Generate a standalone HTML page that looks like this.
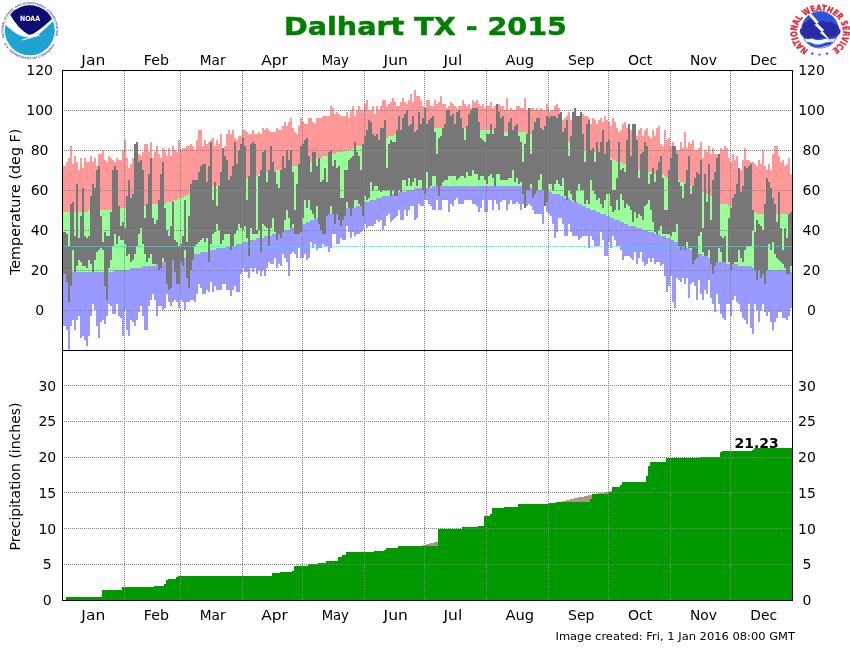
<!DOCTYPE html>
<html><head><meta charset="utf-8"><title>Dalhart TX - 2015</title>
<style>
html,body{margin:0;padding:0;background:#fff;}
body{width:850px;height:650px;overflow:hidden;}
svg{display:block;}
text{font-family:"DejaVu Sans","Liberation Sans",sans-serif;fill:#000;}
.ax{font-size:14px;}
.t{font-family:"DejaVu Sans","Liberation Sans",sans-serif;font-weight:bold;font-size:25.6px;fill:#008000;stroke:#008000;stroke-width:0.5px;}
.f{font-size:10px;}
.g{stroke:#828282;stroke-width:1;stroke-dasharray:1 1;fill:none;shape-rendering:crispEdges;}
</style></head><body>
<svg width="850" height="650" viewBox="0 0 850 650">
<rect width="850" height="650" fill="#fff"/>

<g>
<path d="M62 166.0h2V212.0h-2zM64 166.0h2V212.0h-2zM66 162.0h2V212.0h-2zM68 158.0h2V212.0h-2zM70 146.0h2V212.0h-2zM72 164.0h2V212.0h-2zM74 156.0h2V212.0h-2zM76 162.0h2V212.0h-2zM78 170.0h2V212.0h-2zM80 158.0h2V212.0h-2zM82 168.0h2V212.0h-2zM84 158.0h2V212.0h-2zM86 162.0h2V212.0h-2zM88 162.0h2V210.0h-2zM90 156.0h2V210.0h-2zM92 162.0h2V210.0h-2zM94 158.0h2V210.0h-2zM96 166.0h2V210.0h-2zM98 154.0h2V210.0h-2zM100 154.0h2V210.0h-2zM102 150.0h2V210.0h-2zM104 160.0h2V210.0h-2zM106 162.0h2V210.0h-2zM108 156.0h2V210.0h-2zM110 158.0h2V210.0h-2zM112 160.0h2V210.0h-2zM114 162.0h2V210.0h-2zM116 158.0h2V210.0h-2zM118 160.0h2V210.0h-2zM120 160.0h2V208.0h-2zM122 150.0h2V208.0h-2zM124 140.0h2V208.0h-2zM126 158.0h2V208.0h-2zM128 168.0h2V208.0h-2zM130 164.0h2V208.0h-2zM132 158.0h2V208.0h-2zM134 144.0h2V208.0h-2zM136 142.0h2V208.0h-2zM138 154.0h2V208.0h-2zM140 156.0h2V208.0h-2zM142 152.0h2V208.0h-2zM144 144.0h2V206.0h-2zM146 144.0h2V206.0h-2zM148 152.0h2V206.0h-2zM150 142.0h2V206.0h-2zM152 158.0h2V204.0h-2zM154 152.0h2V204.0h-2zM156 146.0h2V204.0h-2zM158 154.0h2V204.0h-2zM160 158.0h2V204.0h-2zM162 148.0h2V204.0h-2zM164 150.0h2V204.0h-2zM166 156.0h2V202.0h-2zM168 148.0h2V202.0h-2zM170 156.0h2V202.0h-2zM172 146.0h2V202.0h-2zM174 150.0h2V200.0h-2zM176 152.0h2V200.0h-2zM178 140.0h2V198.0h-2zM180 150.0h2V198.0h-2zM182 148.0h2V198.0h-2zM184 148.0h2V196.0h-2zM186 146.0h2V196.0h-2zM188 146.0h2V194.0h-2zM190 144.0h2V194.0h-2zM192 146.0h2V194.0h-2zM194 150.0h2V192.0h-2zM196 140.0h2V192.0h-2zM198 130.0h2V192.0h-2zM200 130.0h2V190.0h-2zM202 146.0h2V190.0h-2zM204 140.0h2V190.0h-2zM206 144.0h2V188.0h-2zM208 142.0h2V188.0h-2zM210 140.0h2V188.0h-2zM212 138.0h2V186.0h-2zM214 146.0h2V186.0h-2zM216 140.0h2V186.0h-2zM218 144.0h2V186.0h-2zM220 134.0h2V184.0h-2zM222 148.0h2V184.0h-2zM224 146.0h2V184.0h-2zM226 134.0h2V184.0h-2zM228 130.0h2V182.0h-2zM230 134.0h2V182.0h-2zM232 130.0h2V182.0h-2zM234 138.0h2V182.0h-2zM236 140.0h2V182.0h-2zM238 136.0h2V180.0h-2zM240 136.0h2V180.0h-2zM242 130.0h2V180.0h-2zM244 130.0h2V180.0h-2zM246 132.0h2V178.0h-2zM248 134.0h2V178.0h-2zM250 134.0h2V178.0h-2zM252 130.0h2V176.0h-2zM254 134.0h2V176.0h-2zM256 134.0h2V176.0h-2zM258 132.0h2V174.0h-2zM260 134.0h2V174.0h-2zM262 128.0h2V174.0h-2zM264 130.0h2V174.0h-2zM266 128.0h2V172.0h-2zM268 130.0h2V172.0h-2zM270 132.0h2V172.0h-2zM272 132.0h2V172.0h-2zM274 132.0h2V172.0h-2zM276 128.0h2V170.0h-2zM278 130.0h2V170.0h-2zM280 130.0h2V170.0h-2zM282 126.0h2V170.0h-2zM284 122.0h2V168.0h-2zM286 126.0h2V168.0h-2zM288 122.0h2V168.0h-2zM290 118.0h2V168.0h-2zM292 128.0h2V166.0h-2zM294 132.0h2V166.0h-2zM296 134.0h2V166.0h-2zM298 126.0h2V164.0h-2zM300 118.0h2V164.0h-2zM302 122.0h2V164.0h-2zM304 124.0h2V162.0h-2zM306 124.0h2V162.0h-2zM308 118.0h2V162.0h-2zM310 118.0h2V162.0h-2zM312 122.0h2V160.0h-2zM314 124.0h2V160.0h-2zM316 118.0h2V158.0h-2zM318 118.0h2V158.0h-2zM320 118.0h2V158.0h-2zM322 116.0h2V156.0h-2zM324 116.0h2V156.0h-2zM326 116.0h2V156.0h-2zM328 116.0h2V154.0h-2zM330 106.0h2V154.0h-2zM332 108.0h2V154.0h-2zM334 114.0h2V154.0h-2zM336 112.0h2V152.0h-2zM338 114.0h2V152.0h-2zM340 116.0h2V152.0h-2zM342 116.0h2V152.0h-2zM344 116.0h2V150.0h-2zM346 112.0h2V150.0h-2zM348 118.0h2V150.0h-2zM350 110.0h2V150.0h-2zM352 106.0h2V148.0h-2zM354 116.0h2V148.0h-2zM356 110.0h2V146.0h-2zM358 106.0h2V146.0h-2zM360 110.0h2V146.0h-2zM362 110.0h2V144.0h-2zM364 104.0h2V144.0h-2zM366 100.0h2V144.0h-2zM368 110.0h2V142.0h-2zM370 110.0h2V142.0h-2zM372 106.0h2V142.0h-2zM374 114.0h2V140.0h-2zM376 106.0h2V140.0h-2zM378 110.0h2V140.0h-2zM380 106.0h2V138.0h-2zM382 100.0h2V138.0h-2zM384 100.0h2V138.0h-2zM386 106.0h2V138.0h-2zM388 104.0h2V136.0h-2zM390 102.0h2V136.0h-2zM392 98.0h2V136.0h-2zM394 102.0h2V134.0h-2zM396 106.0h2V134.0h-2zM398 106.0h2V134.0h-2zM400 102.0h2V134.0h-2zM402 98.0h2V134.0h-2zM404 102.0h2V134.0h-2zM406 104.0h2V132.0h-2zM408 100.0h2V132.0h-2zM410 94.0h2V132.0h-2zM412 102.0h2V132.0h-2zM414 90.0h2V132.0h-2zM416 96.0h2V130.0h-2zM418 96.0h2V130.0h-2zM420 100.0h2V130.0h-2zM422 106.0h2V130.0h-2zM424 108.0h2V130.0h-2zM426 100.0h2V128.0h-2zM428 100.0h2V128.0h-2zM430 106.0h2V128.0h-2zM432 106.0h2V128.0h-2zM434 100.0h2V128.0h-2zM436 104.0h2V128.0h-2zM438 102.0h2V128.0h-2zM440 96.0h2V128.0h-2zM442 104.0h2V128.0h-2zM444 104.0h2V128.0h-2zM446 108.0h2V128.0h-2zM448 106.0h2V128.0h-2zM450 102.0h2V128.0h-2zM452 104.0h2V128.0h-2zM454 106.0h2V128.0h-2zM456 108.0h2V128.0h-2zM458 106.0h2V128.0h-2zM460 106.0h2V128.0h-2zM462 100.0h2V128.0h-2zM464 104.0h2V128.0h-2zM466 106.0h2V128.0h-2zM468 104.0h2V128.0h-2zM470 108.0h2V128.0h-2zM472 100.0h2V128.0h-2zM474 102.0h2V128.0h-2zM476 100.0h2V128.0h-2zM478 104.0h2V128.0h-2zM480 106.0h2V130.0h-2zM482 104.0h2V130.0h-2zM484 108.0h2V130.0h-2zM486 106.0h2V130.0h-2zM488 106.0h2V130.0h-2zM490 102.0h2V130.0h-2zM492 108.0h2V130.0h-2zM494 106.0h2V130.0h-2zM496 104.0h2V130.0h-2zM498 104.0h2V130.0h-2zM500 106.0h2V130.0h-2zM502 106.0h2V132.0h-2zM504 110.0h2V132.0h-2zM506 98.0h2V132.0h-2zM508 110.0h2V132.0h-2zM510 108.0h2V132.0h-2zM512 110.0h2V132.0h-2zM514 110.0h2V132.0h-2zM516 106.0h2V132.0h-2zM518 106.0h2V132.0h-2zM520 108.0h2V132.0h-2zM522 108.0h2V132.0h-2zM524 98.0h2V132.0h-2zM526 110.0h2V134.0h-2zM528 108.0h2V134.0h-2zM530 108.0h2V134.0h-2zM532 108.0h2V134.0h-2zM534 110.0h2V134.0h-2zM536 108.0h2V134.0h-2zM538 110.0h2V136.0h-2zM540 108.0h2V136.0h-2zM542 110.0h2V136.0h-2zM544 110.0h2V136.0h-2zM546 104.0h2V138.0h-2zM548 112.0h2V138.0h-2zM550 110.0h2V138.0h-2zM552 110.0h2V138.0h-2zM554 106.0h2V140.0h-2zM556 104.0h2V140.0h-2zM558 108.0h2V140.0h-2zM560 112.0h2V140.0h-2zM562 120.0h2V140.0h-2zM564 118.0h2V142.0h-2zM566 116.0h2V142.0h-2zM568 112.0h2V142.0h-2zM570 120.0h2V144.0h-2zM572 112.0h2V144.0h-2zM574 108.0h2V144.0h-2zM576 116.0h2V146.0h-2zM578 116.0h2V146.0h-2zM580 112.0h2V148.0h-2zM582 114.0h2V148.0h-2zM584 116.0h2V150.0h-2zM586 116.0h2V150.0h-2zM588 118.0h2V150.0h-2zM590 124.0h2V152.0h-2zM592 118.0h2V152.0h-2zM594 120.0h2V152.0h-2zM596 124.0h2V154.0h-2zM598 120.0h2V154.0h-2zM600 118.0h2V154.0h-2zM602 122.0h2V156.0h-2zM604 116.0h2V156.0h-2zM606 120.0h2V158.0h-2zM608 122.0h2V158.0h-2zM610 126.0h2V158.0h-2zM612 118.0h2V160.0h-2zM614 122.0h2V160.0h-2zM616 128.0h2V162.0h-2zM618 132.0h2V162.0h-2zM620 130.0h2V162.0h-2zM622 124.0h2V164.0h-2zM624 122.0h2V164.0h-2zM626 128.0h2V164.0h-2zM628 124.0h2V166.0h-2zM630 130.0h2V166.0h-2zM632 124.0h2V166.0h-2zM634 124.0h2V168.0h-2zM636 136.0h2V168.0h-2zM638 130.0h2V170.0h-2zM640 128.0h2V170.0h-2zM642 136.0h2V170.0h-2zM644 130.0h2V170.0h-2zM646 128.0h2V170.0h-2zM648 136.0h2V172.0h-2zM650 138.0h2V172.0h-2zM652 130.0h2V172.0h-2zM654 136.0h2V174.0h-2zM656 128.0h2V174.0h-2zM658 126.0h2V174.0h-2zM660 144.0h2V174.0h-2zM662 146.0h2V174.0h-2zM664 130.0h2V176.0h-2zM666 140.0h2V178.0h-2zM668 138.0h2V178.0h-2zM670 146.0h2V178.0h-2zM672 142.0h2V178.0h-2zM674 146.0h2V180.0h-2zM676 150.0h2V180.0h-2zM678 150.0h2V180.0h-2zM680 142.0h2V182.0h-2zM682 148.0h2V182.0h-2zM684 132.0h2V184.0h-2zM686 148.0h2V184.0h-2zM688 142.0h2V186.0h-2zM690 144.0h2V186.0h-2zM692 140.0h2V188.0h-2zM694 150.0h2V188.0h-2zM696 150.0h2V190.0h-2zM698 148.0h2V190.0h-2zM700 142.0h2V192.0h-2zM702 158.0h2V192.0h-2zM704 150.0h2V194.0h-2zM706 152.0h2V194.0h-2zM708 146.0h2V196.0h-2zM710 154.0h2V196.0h-2zM712 148.0h2V198.0h-2zM714 154.0h2V200.0h-2zM716 154.0h2V200.0h-2zM718 154.0h2V202.0h-2zM720 148.0h2V204.0h-2zM722 150.0h2V204.0h-2zM724 146.0h2V204.0h-2zM726 148.0h2V204.0h-2zM728 158.0h2V206.0h-2zM730 162.0h2V206.0h-2zM732 154.0h2V206.0h-2zM734 160.0h2V206.0h-2zM736 156.0h2V208.0h-2zM738 168.0h2V208.0h-2zM740 170.0h2V208.0h-2zM742 160.0h2V210.0h-2zM744 148.0h2V210.0h-2zM746 160.0h2V210.0h-2zM748 160.0h2V210.0h-2zM750 162.0h2V212.0h-2zM752 162.0h2V212.0h-2zM754 164.0h2V212.0h-2zM756 166.0h2V214.0h-2zM758 160.0h2V214.0h-2zM760 164.0h2V214.0h-2zM762 150.0h2V214.0h-2zM764 166.0h2V214.0h-2zM766 170.0h2V214.0h-2zM768 164.0h2V214.0h-2zM770 170.0h2V214.0h-2zM772 154.0h2V214.0h-2zM774 146.0h2V214.0h-2zM776 146.0h2V214.0h-2zM778 156.0h2V214.0h-2zM780 162.0h2V214.0h-2zM782 160.0h2V214.0h-2zM784 166.0h2V214.0h-2zM786 164.0h2V214.0h-2zM788 158.0h2V214.0h-2zM790 174.0h2V214.0h-2z" fill="#ff9999" shape-rendering="crispEdges"/>
<path d="M62 212.0h2V272.0h-2zM64 212.0h2V272.0h-2zM66 212.0h2V272.0h-2zM68 212.0h2V272.0h-2zM70 212.0h2V272.0h-2zM72 212.0h2V272.0h-2zM74 212.0h2V272.0h-2zM76 212.0h2V272.0h-2zM78 212.0h2V272.0h-2zM80 212.0h2V272.0h-2zM82 212.0h2V272.0h-2zM84 212.0h2V272.0h-2zM86 212.0h2V272.0h-2zM88 210.0h2V272.0h-2zM90 210.0h2V272.0h-2zM92 210.0h2V272.0h-2zM94 210.0h2V272.0h-2zM96 210.0h2V272.0h-2zM98 210.0h2V272.0h-2zM100 210.0h2V272.0h-2zM102 210.0h2V272.0h-2zM104 210.0h2V272.0h-2zM106 210.0h2V272.0h-2zM108 210.0h2V272.0h-2zM110 210.0h2V272.0h-2zM112 210.0h2V272.0h-2zM114 210.0h2V270.0h-2zM116 210.0h2V270.0h-2zM118 210.0h2V270.0h-2zM120 208.0h2V270.0h-2zM122 208.0h2V270.0h-2zM124 208.0h2V270.0h-2zM126 208.0h2V270.0h-2zM128 208.0h2V270.0h-2zM130 208.0h2V268.0h-2zM132 208.0h2V268.0h-2zM134 208.0h2V268.0h-2zM136 208.0h2V268.0h-2zM138 208.0h2V268.0h-2zM140 208.0h2V268.0h-2zM142 208.0h2V266.0h-2zM144 206.0h2V266.0h-2zM146 206.0h2V266.0h-2zM148 206.0h2V266.0h-2zM150 206.0h2V266.0h-2zM152 204.0h2V266.0h-2zM154 204.0h2V266.0h-2zM156 204.0h2V264.0h-2zM158 204.0h2V264.0h-2zM160 204.0h2V262.0h-2zM162 204.0h2V262.0h-2zM164 204.0h2V262.0h-2zM166 202.0h2V262.0h-2zM168 202.0h2V260.0h-2zM170 202.0h2V260.0h-2zM172 202.0h2V260.0h-2zM174 200.0h2V260.0h-2zM176 200.0h2V260.0h-2zM178 198.0h2V258.0h-2zM180 198.0h2V258.0h-2zM182 198.0h2V258.0h-2zM184 196.0h2V258.0h-2zM186 196.0h2V256.0h-2zM188 194.0h2V256.0h-2zM190 194.0h2V256.0h-2zM192 194.0h2V254.0h-2zM194 192.0h2V254.0h-2zM196 192.0h2V254.0h-2zM198 192.0h2V254.0h-2zM200 190.0h2V252.0h-2zM202 190.0h2V252.0h-2zM204 190.0h2V252.0h-2zM206 188.0h2V252.0h-2zM208 188.0h2V250.0h-2zM210 188.0h2V250.0h-2zM212 186.0h2V250.0h-2zM214 186.0h2V250.0h-2zM216 186.0h2V248.0h-2zM218 186.0h2V248.0h-2zM220 184.0h2V248.0h-2zM222 184.0h2V248.0h-2zM224 184.0h2V248.0h-2zM226 184.0h2V246.0h-2zM228 182.0h2V246.0h-2zM230 182.0h2V246.0h-2zM232 182.0h2V246.0h-2zM234 182.0h2V246.0h-2zM236 182.0h2V244.0h-2zM238 180.0h2V244.0h-2zM240 180.0h2V244.0h-2zM242 180.0h2V242.0h-2zM244 180.0h2V242.0h-2zM246 178.0h2V242.0h-2zM248 178.0h2V242.0h-2zM250 178.0h2V240.0h-2zM252 176.0h2V240.0h-2zM254 176.0h2V240.0h-2zM256 176.0h2V238.0h-2zM258 174.0h2V238.0h-2zM260 174.0h2V238.0h-2zM262 174.0h2V238.0h-2zM264 174.0h2V236.0h-2zM266 172.0h2V236.0h-2zM268 172.0h2V236.0h-2zM270 172.0h2V236.0h-2zM272 172.0h2V234.0h-2zM274 172.0h2V234.0h-2zM276 170.0h2V234.0h-2zM278 170.0h2V232.0h-2zM280 170.0h2V232.0h-2zM282 170.0h2V232.0h-2zM284 168.0h2V230.0h-2zM286 168.0h2V230.0h-2zM288 168.0h2V230.0h-2zM290 168.0h2V228.0h-2zM292 166.0h2V228.0h-2zM294 166.0h2V228.0h-2zM296 166.0h2V226.0h-2zM298 164.0h2V226.0h-2zM300 164.0h2V224.0h-2zM302 164.0h2V224.0h-2zM304 162.0h2V224.0h-2zM306 162.0h2V222.0h-2zM308 162.0h2V222.0h-2zM310 162.0h2V220.0h-2zM312 160.0h2V220.0h-2zM314 160.0h2V218.0h-2zM316 158.0h2V218.0h-2zM318 158.0h2V218.0h-2zM320 158.0h2V216.0h-2zM322 156.0h2V216.0h-2zM324 156.0h2V216.0h-2zM326 156.0h2V214.0h-2zM328 154.0h2V214.0h-2zM330 154.0h2V214.0h-2zM332 154.0h2V212.0h-2zM334 154.0h2V212.0h-2zM336 152.0h2V212.0h-2zM338 152.0h2V210.0h-2zM340 152.0h2V210.0h-2zM342 152.0h2V210.0h-2zM344 150.0h2V208.0h-2zM346 150.0h2V208.0h-2zM348 150.0h2V208.0h-2zM350 150.0h2V208.0h-2zM352 148.0h2V208.0h-2zM354 148.0h2V208.0h-2zM356 146.0h2V206.0h-2zM358 146.0h2V206.0h-2zM360 146.0h2V204.0h-2zM362 144.0h2V204.0h-2zM364 144.0h2V202.0h-2zM366 144.0h2V202.0h-2zM368 142.0h2V202.0h-2zM370 142.0h2V200.0h-2zM372 142.0h2V200.0h-2zM374 140.0h2V200.0h-2zM376 140.0h2V198.0h-2zM378 140.0h2V198.0h-2zM380 138.0h2V198.0h-2zM382 138.0h2V196.0h-2zM384 138.0h2V196.0h-2zM386 138.0h2V196.0h-2zM388 136.0h2V196.0h-2zM390 136.0h2V194.0h-2zM392 136.0h2V194.0h-2zM394 134.0h2V194.0h-2zM396 134.0h2V194.0h-2zM398 134.0h2V192.0h-2zM400 134.0h2V192.0h-2zM402 134.0h2V192.0h-2zM404 134.0h2V192.0h-2zM406 132.0h2V190.0h-2zM408 132.0h2V190.0h-2zM410 132.0h2V190.0h-2zM412 132.0h2V190.0h-2zM414 132.0h2V188.0h-2zM416 130.0h2V188.0h-2zM418 130.0h2V188.0h-2zM420 130.0h2V188.0h-2zM422 130.0h2V188.0h-2zM424 130.0h2V188.0h-2zM426 128.0h2V188.0h-2zM428 128.0h2V188.0h-2zM430 128.0h2V188.0h-2zM432 128.0h2V186.0h-2zM434 128.0h2V186.0h-2zM436 128.0h2V186.0h-2zM438 128.0h2V186.0h-2zM440 128.0h2V186.0h-2zM442 128.0h2V186.0h-2zM444 128.0h2V186.0h-2zM446 128.0h2V186.0h-2zM448 128.0h2V186.0h-2zM450 128.0h2V186.0h-2zM452 128.0h2V186.0h-2zM454 128.0h2V186.0h-2zM456 128.0h2V186.0h-2zM458 128.0h2V186.0h-2zM460 128.0h2V186.0h-2zM462 128.0h2V186.0h-2zM464 128.0h2V186.0h-2zM466 128.0h2V186.0h-2zM468 128.0h2V186.0h-2zM470 128.0h2V186.0h-2zM472 128.0h2V186.0h-2zM474 128.0h2V186.0h-2zM476 128.0h2V186.0h-2zM478 128.0h2V186.0h-2zM480 130.0h2V186.0h-2zM482 130.0h2V186.0h-2zM484 130.0h2V186.0h-2zM486 130.0h2V186.0h-2zM488 130.0h2V186.0h-2zM490 130.0h2V186.0h-2zM492 130.0h2V186.0h-2zM494 130.0h2V186.0h-2zM496 130.0h2V186.0h-2zM498 130.0h2V186.0h-2zM500 130.0h2V186.0h-2zM502 132.0h2V186.0h-2zM504 132.0h2V186.0h-2zM506 132.0h2V186.0h-2zM508 132.0h2V186.0h-2zM510 132.0h2V186.0h-2zM512 132.0h2V186.0h-2zM514 132.0h2V186.0h-2zM516 132.0h2V186.0h-2zM518 132.0h2V186.0h-2zM520 132.0h2V186.0h-2zM522 132.0h2V186.0h-2zM524 132.0h2V188.0h-2zM526 134.0h2V188.0h-2zM528 134.0h2V188.0h-2zM530 134.0h2V188.0h-2zM532 134.0h2V188.0h-2zM534 134.0h2V190.0h-2zM536 134.0h2V190.0h-2zM538 136.0h2V190.0h-2zM540 136.0h2V190.0h-2zM542 136.0h2V190.0h-2zM544 136.0h2V192.0h-2zM546 138.0h2V192.0h-2zM548 138.0h2V192.0h-2zM550 138.0h2V192.0h-2zM552 138.0h2V194.0h-2zM554 140.0h2V194.0h-2zM556 140.0h2V194.0h-2zM558 140.0h2V194.0h-2zM560 140.0h2V196.0h-2zM562 140.0h2V196.0h-2zM564 142.0h2V198.0h-2zM566 142.0h2V198.0h-2zM568 142.0h2V198.0h-2zM570 144.0h2V200.0h-2zM572 144.0h2V202.0h-2zM574 144.0h2V202.0h-2zM576 146.0h2V202.0h-2zM578 146.0h2V204.0h-2zM580 148.0h2V204.0h-2zM582 148.0h2V206.0h-2zM584 150.0h2V206.0h-2zM586 150.0h2V208.0h-2zM588 150.0h2V208.0h-2zM590 152.0h2V210.0h-2zM592 152.0h2V210.0h-2zM594 152.0h2V210.0h-2zM596 154.0h2V212.0h-2zM598 154.0h2V212.0h-2zM600 154.0h2V214.0h-2zM602 156.0h2V214.0h-2zM604 156.0h2V214.0h-2zM606 158.0h2V216.0h-2zM608 158.0h2V216.0h-2zM610 158.0h2V218.0h-2zM612 160.0h2V218.0h-2zM614 160.0h2V220.0h-2zM616 162.0h2V220.0h-2zM618 162.0h2V220.0h-2zM620 162.0h2V222.0h-2zM622 164.0h2V222.0h-2zM624 164.0h2V224.0h-2zM626 164.0h2V224.0h-2zM628 166.0h2V226.0h-2zM630 166.0h2V226.0h-2zM632 166.0h2V226.0h-2zM634 168.0h2V226.0h-2zM636 168.0h2V228.0h-2zM638 170.0h2V228.0h-2zM640 170.0h2V228.0h-2zM642 170.0h2V230.0h-2zM644 170.0h2V230.0h-2zM646 170.0h2V230.0h-2zM648 172.0h2V232.0h-2zM650 172.0h2V232.0h-2zM652 172.0h2V232.0h-2zM654 174.0h2V234.0h-2zM656 174.0h2V234.0h-2zM658 174.0h2V234.0h-2zM660 174.0h2V236.0h-2zM662 174.0h2V236.0h-2zM664 176.0h2V236.0h-2zM666 178.0h2V238.0h-2zM668 178.0h2V238.0h-2zM670 178.0h2V240.0h-2zM672 178.0h2V240.0h-2zM674 180.0h2V242.0h-2zM676 180.0h2V242.0h-2zM678 180.0h2V244.0h-2zM680 182.0h2V244.0h-2zM682 182.0h2V246.0h-2zM684 184.0h2V246.0h-2zM686 184.0h2V248.0h-2zM688 186.0h2V248.0h-2zM690 186.0h2V250.0h-2zM692 188.0h2V250.0h-2zM694 188.0h2V252.0h-2zM696 190.0h2V252.0h-2zM698 190.0h2V254.0h-2zM700 192.0h2V254.0h-2zM702 192.0h2V256.0h-2zM704 194.0h2V256.0h-2zM706 194.0h2V256.0h-2zM708 196.0h2V258.0h-2zM710 196.0h2V258.0h-2zM712 198.0h2V258.0h-2zM714 200.0h2V260.0h-2zM716 200.0h2V260.0h-2zM718 202.0h2V262.0h-2zM720 204.0h2V262.0h-2zM722 204.0h2V262.0h-2zM724 204.0h2V262.0h-2zM726 204.0h2V264.0h-2zM728 206.0h2V264.0h-2zM730 206.0h2V264.0h-2zM732 206.0h2V264.0h-2zM734 206.0h2V264.0h-2zM736 208.0h2V264.0h-2zM738 208.0h2V266.0h-2zM740 208.0h2V266.0h-2zM742 210.0h2V266.0h-2zM744 210.0h2V266.0h-2zM746 210.0h2V266.0h-2zM748 210.0h2V266.0h-2zM750 212.0h2V266.0h-2zM752 212.0h2V268.0h-2zM754 212.0h2V268.0h-2zM756 214.0h2V268.0h-2zM758 214.0h2V268.0h-2zM760 214.0h2V268.0h-2zM762 214.0h2V268.0h-2zM764 214.0h2V270.0h-2zM766 214.0h2V270.0h-2zM768 214.0h2V270.0h-2zM770 214.0h2V270.0h-2zM772 214.0h2V270.0h-2zM774 214.0h2V270.0h-2zM776 214.0h2V270.0h-2zM778 214.0h2V270.0h-2zM780 214.0h2V270.0h-2zM782 214.0h2V270.0h-2zM784 214.0h2V270.0h-2zM786 214.0h2V270.0h-2zM788 214.0h2V272.0h-2zM790 214.0h2V272.0h-2z" fill="#99ff99" shape-rendering="crispEdges"/>
<path d="M62 272.0h2V326.0h-2zM64 272.0h2V326.0h-2zM66 272.0h2V330.0h-2zM68 272.0h2V350.0h-2zM70 272.0h2V326.0h-2zM72 272.0h2V320.0h-2zM74 272.0h2V330.0h-2zM76 272.0h2V320.0h-2zM78 272.0h2V316.0h-2zM80 272.0h2V338.0h-2zM82 272.0h2V336.0h-2zM84 272.0h2V340.0h-2zM86 272.0h2V346.0h-2zM88 272.0h2V336.0h-2zM90 272.0h2V316.0h-2zM92 272.0h2V304.0h-2zM94 272.0h2V310.0h-2zM96 272.0h2V326.0h-2zM98 272.0h2V338.0h-2zM100 272.0h2V322.0h-2zM102 272.0h2V320.0h-2zM104 272.0h2V324.0h-2zM106 272.0h2V316.0h-2zM108 272.0h2V304.0h-2zM110 272.0h2V306.0h-2zM112 272.0h2V314.0h-2zM114 270.0h2V314.0h-2zM116 270.0h2V304.0h-2zM118 270.0h2V316.0h-2zM120 270.0h2V318.0h-2zM122 270.0h2V336.0h-2zM124 270.0h2V310.0h-2zM126 270.0h2V330.0h-2zM128 270.0h2V336.0h-2zM130 268.0h2V320.0h-2zM132 268.0h2V322.0h-2zM134 268.0h2V326.0h-2zM136 268.0h2V320.0h-2zM138 268.0h2V312.0h-2zM140 268.0h2V306.0h-2zM142 266.0h2V316.0h-2zM144 266.0h2V330.0h-2zM146 266.0h2V330.0h-2zM148 266.0h2V306.0h-2zM150 266.0h2V300.0h-2zM152 266.0h2V294.0h-2zM154 266.0h2V300.0h-2zM156 264.0h2V316.0h-2zM158 264.0h2V306.0h-2zM160 262.0h2V306.0h-2zM162 262.0h2V310.0h-2zM164 262.0h2V308.0h-2zM166 262.0h2V294.0h-2zM168 260.0h2V302.0h-2zM170 260.0h2V306.0h-2zM172 260.0h2V302.0h-2zM174 260.0h2V300.0h-2zM176 260.0h2V302.0h-2zM178 258.0h2V308.0h-2zM180 258.0h2V300.0h-2zM182 258.0h2V302.0h-2zM184 258.0h2V310.0h-2zM186 256.0h2V302.0h-2zM188 256.0h2V302.0h-2zM190 256.0h2V300.0h-2zM192 254.0h2V300.0h-2zM194 254.0h2V302.0h-2zM196 254.0h2V294.0h-2zM198 254.0h2V284.0h-2zM200 252.0h2V288.0h-2zM202 252.0h2V294.0h-2zM204 252.0h2V294.0h-2zM206 252.0h2V290.0h-2zM208 250.0h2V292.0h-2zM210 250.0h2V282.0h-2zM212 250.0h2V292.0h-2zM214 250.0h2V286.0h-2zM216 248.0h2V290.0h-2zM218 248.0h2V290.0h-2zM220 248.0h2V290.0h-2zM222 248.0h2V284.0h-2zM224 248.0h2V284.0h-2zM226 246.0h2V290.0h-2zM228 246.0h2V290.0h-2zM230 246.0h2V296.0h-2zM232 246.0h2V290.0h-2zM234 246.0h2V286.0h-2zM236 244.0h2V292.0h-2zM238 244.0h2V292.0h-2zM240 244.0h2V274.0h-2zM242 242.0h2V268.0h-2zM244 242.0h2V272.0h-2zM246 242.0h2V272.0h-2zM248 242.0h2V278.0h-2zM250 240.0h2V268.0h-2zM252 240.0h2V272.0h-2zM254 240.0h2V268.0h-2zM256 238.0h2V274.0h-2zM258 238.0h2V270.0h-2zM260 238.0h2V276.0h-2zM262 238.0h2V270.0h-2zM264 236.0h2V276.0h-2zM266 236.0h2V268.0h-2zM268 236.0h2V262.0h-2zM270 236.0h2V264.0h-2zM272 234.0h2V264.0h-2zM274 234.0h2V258.0h-2zM276 234.0h2V268.0h-2zM278 232.0h2V264.0h-2zM280 232.0h2V266.0h-2zM282 232.0h2V254.0h-2zM284 230.0h2V258.0h-2zM286 230.0h2V262.0h-2zM288 230.0h2V276.0h-2zM290 228.0h2V254.0h-2zM292 228.0h2V252.0h-2zM294 228.0h2V254.0h-2zM296 226.0h2V258.0h-2zM298 226.0h2V248.0h-2zM300 224.0h2V258.0h-2zM302 224.0h2V258.0h-2zM304 224.0h2V254.0h-2zM306 222.0h2V260.0h-2zM308 222.0h2V258.0h-2zM310 220.0h2V242.0h-2zM312 220.0h2V248.0h-2zM314 218.0h2V244.0h-2zM316 218.0h2V250.0h-2zM318 218.0h2V248.0h-2zM320 216.0h2V248.0h-2zM322 216.0h2V244.0h-2zM324 216.0h2V246.0h-2zM326 214.0h2V246.0h-2zM328 214.0h2V252.0h-2zM330 214.0h2V248.0h-2zM332 212.0h2V234.0h-2zM334 212.0h2V234.0h-2zM336 212.0h2V244.0h-2zM338 210.0h2V244.0h-2zM340 210.0h2V238.0h-2zM342 210.0h2V240.0h-2zM344 208.0h2V240.0h-2zM346 208.0h2V226.0h-2zM348 208.0h2V232.0h-2zM350 208.0h2V238.0h-2zM352 208.0h2V232.0h-2zM354 208.0h2V236.0h-2zM356 206.0h2V234.0h-2zM358 206.0h2V234.0h-2zM360 204.0h2V232.0h-2zM362 204.0h2V230.0h-2zM364 202.0h2V224.0h-2zM366 202.0h2V228.0h-2zM368 202.0h2V226.0h-2zM370 200.0h2V226.0h-2zM372 200.0h2V226.0h-2zM374 200.0h2V224.0h-2zM376 198.0h2V220.0h-2zM378 198.0h2V222.0h-2zM380 198.0h2V220.0h-2zM382 196.0h2V230.0h-2zM384 196.0h2V226.0h-2zM386 196.0h2V216.0h-2zM388 196.0h2V214.0h-2zM390 194.0h2V222.0h-2zM392 194.0h2V220.0h-2zM394 194.0h2V218.0h-2zM396 194.0h2V216.0h-2zM398 192.0h2V210.0h-2zM400 192.0h2V220.0h-2zM402 192.0h2V220.0h-2zM404 192.0h2V210.0h-2zM406 190.0h2V216.0h-2zM408 190.0h2V210.0h-2zM410 190.0h2V206.0h-2zM412 190.0h2V206.0h-2zM414 188.0h2V220.0h-2zM416 188.0h2V218.0h-2zM418 188.0h2V204.0h-2zM420 188.0h2V206.0h-2zM422 188.0h2V206.0h-2zM424 188.0h2V200.0h-2zM426 188.0h2V200.0h-2zM428 188.0h2V204.0h-2zM430 188.0h2V206.0h-2zM432 186.0h2V210.0h-2zM434 186.0h2V210.0h-2zM436 186.0h2V200.0h-2zM438 186.0h2V210.0h-2zM440 186.0h2V210.0h-2zM442 186.0h2V200.0h-2zM444 186.0h2V200.0h-2zM446 186.0h2V200.0h-2zM448 186.0h2V212.0h-2zM450 186.0h2V204.0h-2zM452 186.0h2V206.0h-2zM454 186.0h2V200.0h-2zM456 186.0h2V198.0h-2zM458 186.0h2V204.0h-2zM460 186.0h2V204.0h-2zM462 186.0h2V204.0h-2zM464 186.0h2V200.0h-2zM466 186.0h2V200.0h-2zM468 186.0h2V200.0h-2zM470 186.0h2V200.0h-2zM472 186.0h2V204.0h-2zM474 186.0h2V204.0h-2zM476 186.0h2V206.0h-2zM478 186.0h2V212.0h-2zM480 186.0h2V208.0h-2zM482 186.0h2V200.0h-2zM484 186.0h2V212.0h-2zM486 186.0h2V212.0h-2zM488 186.0h2V200.0h-2zM490 186.0h2V200.0h-2zM492 186.0h2V210.0h-2zM494 186.0h2V200.0h-2zM496 186.0h2V204.0h-2zM498 186.0h2V210.0h-2zM500 186.0h2V202.0h-2zM502 186.0h2V200.0h-2zM504 186.0h2V200.0h-2zM506 186.0h2V210.0h-2zM508 186.0h2V204.0h-2zM510 186.0h2V200.0h-2zM512 186.0h2V204.0h-2zM514 186.0h2V204.0h-2zM516 186.0h2V202.0h-2zM518 186.0h2V204.0h-2zM520 186.0h2V210.0h-2zM522 186.0h2V204.0h-2zM524 188.0h2V208.0h-2zM526 188.0h2V206.0h-2zM528 188.0h2V204.0h-2zM530 188.0h2V206.0h-2zM532 188.0h2V210.0h-2zM534 190.0h2V214.0h-2zM536 190.0h2V214.0h-2zM538 190.0h2V214.0h-2zM540 190.0h2V214.0h-2zM542 190.0h2V224.0h-2zM544 192.0h2V206.0h-2zM546 192.0h2V212.0h-2zM548 192.0h2V214.0h-2zM550 192.0h2V216.0h-2zM552 194.0h2V224.0h-2zM554 194.0h2V238.0h-2zM556 194.0h2V232.0h-2zM558 194.0h2V218.0h-2zM560 196.0h2V218.0h-2zM562 196.0h2V224.0h-2zM564 198.0h2V236.0h-2zM566 198.0h2V236.0h-2zM568 198.0h2V224.0h-2zM570 200.0h2V232.0h-2zM572 202.0h2V236.0h-2zM574 202.0h2V236.0h-2zM576 202.0h2V236.0h-2zM578 204.0h2V240.0h-2zM580 204.0h2V238.0h-2zM582 206.0h2V236.0h-2zM584 206.0h2V236.0h-2zM586 208.0h2V236.0h-2zM588 208.0h2V248.0h-2zM590 210.0h2V236.0h-2zM592 210.0h2V240.0h-2zM594 210.0h2V246.0h-2zM596 212.0h2V246.0h-2zM598 212.0h2V246.0h-2zM600 214.0h2V232.0h-2zM602 214.0h2V240.0h-2zM604 214.0h2V256.0h-2zM606 216.0h2V256.0h-2zM608 216.0h2V242.0h-2zM610 218.0h2V248.0h-2zM612 218.0h2V236.0h-2zM614 220.0h2V240.0h-2zM616 220.0h2V246.0h-2zM618 220.0h2V246.0h-2zM620 222.0h2V250.0h-2zM622 222.0h2V260.0h-2zM624 224.0h2V256.0h-2zM626 224.0h2V256.0h-2zM628 226.0h2V256.0h-2zM630 226.0h2V258.0h-2zM632 226.0h2V260.0h-2zM634 226.0h2V252.0h-2zM636 228.0h2V264.0h-2zM638 228.0h2V258.0h-2zM640 228.0h2V252.0h-2zM642 230.0h2V262.0h-2zM644 230.0h2V266.0h-2zM646 230.0h2V264.0h-2zM648 232.0h2V258.0h-2zM650 232.0h2V262.0h-2zM652 232.0h2V258.0h-2zM654 234.0h2V264.0h-2zM656 234.0h2V262.0h-2zM658 234.0h2V262.0h-2zM660 236.0h2V266.0h-2zM662 236.0h2V264.0h-2zM664 236.0h2V276.0h-2zM666 238.0h2V292.0h-2zM668 238.0h2V286.0h-2zM670 240.0h2V276.0h-2zM672 240.0h2V302.0h-2zM674 242.0h2V308.0h-2zM676 242.0h2V278.0h-2zM678 244.0h2V280.0h-2zM680 244.0h2V282.0h-2zM682 246.0h2V278.0h-2zM684 246.0h2V284.0h-2zM686 248.0h2V278.0h-2zM688 248.0h2V298.0h-2zM690 250.0h2V284.0h-2zM692 250.0h2V282.0h-2zM694 252.0h2V286.0h-2zM696 252.0h2V300.0h-2zM698 254.0h2V280.0h-2zM700 254.0h2V294.0h-2zM702 256.0h2V300.0h-2zM704 256.0h2V290.0h-2zM706 256.0h2V294.0h-2zM708 258.0h2V280.0h-2zM710 258.0h2V298.0h-2zM712 258.0h2V304.0h-2zM714 260.0h2V312.0h-2zM716 260.0h2V294.0h-2zM718 262.0h2V304.0h-2zM720 262.0h2V314.0h-2zM722 262.0h2V318.0h-2zM724 262.0h2V320.0h-2zM726 264.0h2V304.0h-2zM728 264.0h2V304.0h-2zM730 264.0h2V316.0h-2zM732 264.0h2V300.0h-2zM734 264.0h2V296.0h-2zM736 264.0h2V302.0h-2zM738 266.0h2V304.0h-2zM740 266.0h2V312.0h-2zM742 266.0h2V318.0h-2zM744 266.0h2V320.0h-2zM746 266.0h2V324.0h-2zM748 266.0h2V304.0h-2zM750 266.0h2V328.0h-2zM752 268.0h2V334.0h-2zM754 268.0h2V304.0h-2zM756 268.0h2V310.0h-2zM758 268.0h2V322.0h-2zM760 268.0h2V310.0h-2zM762 268.0h2V304.0h-2zM764 270.0h2V312.0h-2zM766 270.0h2V316.0h-2zM768 270.0h2V312.0h-2zM770 270.0h2V322.0h-2zM772 270.0h2V330.0h-2zM774 270.0h2V322.0h-2zM776 270.0h2V318.0h-2zM778 270.0h2V312.0h-2zM780 270.0h2V312.0h-2zM782 270.0h2V318.0h-2zM784 270.0h2V318.0h-2zM786 270.0h2V320.0h-2zM788 272.0h2V316.0h-2zM790 272.0h2V308.0h-2z" fill="#9999ff" shape-rendering="crispEdges"/>
<path d="M62 232.0h2V274.0h-2zM64 232.0h2V274.0h-2zM66 234.0h2V282.0h-2zM68 246.0h2V302.0h-2zM70 204.0h2V286.0h-2zM72 202.0h2V250.0h-2zM74 236.0h2V272.0h-2zM76 184.0h2V266.0h-2zM78 238.0h2V260.0h-2zM80 216.0h2V262.0h-2zM82 188.0h2V266.0h-2zM84 236.0h2V266.0h-2zM86 238.0h2V268.0h-2zM88 236.0h2V260.0h-2zM90 196.0h2V264.0h-2zM92 184.0h2V272.0h-2zM94 188.0h2V260.0h-2zM96 170.0h2V252.0h-2zM98 166.0h2V250.0h-2zM100 216.0h2V248.0h-2zM102 242.0h2V250.0h-2zM104 232.0h2V286.0h-2zM106 236.0h2V300.0h-2zM108 236.0h2V268.0h-2zM110 212.0h2V260.0h-2zM112 170.0h2V246.0h-2zM114 166.0h2V234.0h-2zM116 170.0h2V244.0h-2zM118 206.0h2V236.0h-2zM120 226.0h2V240.0h-2zM122 222.0h2V240.0h-2zM124 228.0h2V244.0h-2zM126 196.0h2V256.0h-2zM128 180.0h2V254.0h-2zM130 198.0h2V262.0h-2zM132 194.0h2V260.0h-2zM134 144.0h2V254.0h-2zM136 142.0h2V246.0h-2zM138 162.0h2V234.0h-2zM140 160.0h2V228.0h-2zM142 170.0h2V244.0h-2zM144 218.0h2V254.0h-2zM146 204.0h2V262.0h-2zM148 174.0h2V258.0h-2zM150 158.0h2V254.0h-2zM152 218.0h2V264.0h-2zM154 224.0h2V264.0h-2zM156 220.0h2V264.0h-2zM158 200.0h2V270.0h-2zM160 174.0h2V268.0h-2zM162 162.0h2V258.0h-2zM164 208.0h2V262.0h-2zM166 230.0h2V284.0h-2zM168 236.0h2V290.0h-2zM170 226.0h2V288.0h-2zM172 202.0h2V260.0h-2zM174 240.0h2V272.0h-2zM176 242.0h2V284.0h-2zM178 246.0h2V284.0h-2zM180 244.0h2V262.0h-2zM182 236.0h2V266.0h-2zM184 200.0h2V250.0h-2zM186 242.0h2V278.0h-2zM188 216.0h2V288.0h-2zM190 184.0h2V270.0h-2zM192 180.0h2V260.0h-2zM194 180.0h2V246.0h-2zM196 180.0h2V244.0h-2zM198 172.0h2V242.0h-2zM200 166.0h2V240.0h-2zM202 164.0h2V238.0h-2zM204 164.0h2V242.0h-2zM206 182.0h2V238.0h-2zM208 166.0h2V262.0h-2zM210 142.0h2V244.0h-2zM212 200.0h2V234.0h-2zM214 182.0h2V232.0h-2zM216 206.0h2V224.0h-2zM218 186.0h2V230.0h-2zM220 172.0h2V244.0h-2zM222 148.0h2V240.0h-2zM224 156.0h2V234.0h-2zM226 160.0h2V234.0h-2zM228 180.0h2V234.0h-2zM230 176.0h2V250.0h-2zM232 166.0h2V246.0h-2zM234 142.0h2V234.0h-2zM236 164.0h2V230.0h-2zM238 150.0h2V224.0h-2zM240 144.0h2V228.0h-2zM242 138.0h2V230.0h-2zM244 146.0h2V226.0h-2zM246 200.0h2V238.0h-2zM248 176.0h2V256.0h-2zM250 144.0h2V228.0h-2zM252 142.0h2V234.0h-2zM254 144.0h2V234.0h-2zM256 230.0h2V234.0h-2zM258 176.0h2V230.0h-2zM260 170.0h2V252.0h-2zM262 152.0h2V224.0h-2zM264 150.0h2V226.0h-2zM266 182.0h2V228.0h-2zM268 170.0h2V246.0h-2zM270 146.0h2V228.0h-2zM272 162.0h2V218.0h-2zM274 172.0h2V232.0h-2zM276 184.0h2V240.0h-2zM278 188.0h2V234.0h-2zM280 170.0h2V238.0h-2zM282 156.0h2V232.0h-2zM284 168.0h2V220.0h-2zM286 150.0h2V210.0h-2zM288 160.0h2V218.0h-2zM290 150.0h2V228.0h-2zM292 172.0h2V224.0h-2zM294 210.0h2V234.0h-2zM296 184.0h2V234.0h-2zM298 164.0h2V234.0h-2zM300 146.0h2V232.0h-2zM302 144.0h2V218.0h-2zM304 140.0h2V200.0h-2zM306 138.0h2V208.0h-2zM308 156.0h2V200.0h-2zM310 172.0h2V210.0h-2zM312 152.0h2V214.0h-2zM314 152.0h2V218.0h-2zM316 166.0h2V206.0h-2zM318 158.0h2V224.0h-2zM320 182.0h2V230.0h-2zM322 180.0h2V234.0h-2zM324 168.0h2V234.0h-2zM326 182.0h2V216.0h-2zM328 152.0h2V214.0h-2zM330 150.0h2V206.0h-2zM332 166.0h2V214.0h-2zM334 160.0h2V224.0h-2zM336 168.0h2V214.0h-2zM338 166.0h2V220.0h-2zM340 198.0h2V226.0h-2zM342 198.0h2V220.0h-2zM344 170.0h2V216.0h-2zM346 170.0h2V202.0h-2zM348 160.0h2V208.0h-2zM350 158.0h2V216.0h-2zM352 156.0h2V208.0h-2zM354 142.0h2V200.0h-2zM356 152.0h2V200.0h-2zM358 156.0h2V204.0h-2zM360 170.0h2V206.0h-2zM362 144.0h2V216.0h-2zM364 136.0h2V196.0h-2zM366 130.0h2V200.0h-2zM368 120.0h2V198.0h-2zM370 122.0h2V182.0h-2zM372 134.0h2V190.0h-2zM374 136.0h2V186.0h-2zM376 134.0h2V186.0h-2zM378 140.0h2V190.0h-2zM380 128.0h2V192.0h-2zM382 128.0h2V190.0h-2zM384 120.0h2V190.0h-2zM386 168.0h2V190.0h-2zM388 144.0h2V190.0h-2zM390 140.0h2V196.0h-2zM392 142.0h2V190.0h-2zM394 142.0h2V196.0h-2zM396 130.0h2V196.0h-2zM398 116.0h2V190.0h-2zM400 130.0h2V192.0h-2zM402 118.0h2V180.0h-2zM404 114.0h2V180.0h-2zM406 110.0h2V186.0h-2zM408 126.0h2V178.0h-2zM410 124.0h2V186.0h-2zM412 116.0h2V182.0h-2zM414 132.0h2V178.0h-2zM416 130.0h2V186.0h-2zM418 112.0h2V180.0h-2zM420 124.0h2V180.0h-2zM422 118.0h2V190.0h-2zM424 108.0h2V194.0h-2zM426 124.0h2V172.0h-2zM428 120.0h2V188.0h-2zM430 118.0h2V186.0h-2zM432 116.0h2V176.0h-2zM434 132.0h2V176.0h-2zM436 154.0h2V186.0h-2zM438 138.0h2V196.0h-2zM440 136.0h2V186.0h-2zM442 128.0h2V182.0h-2zM444 124.0h2V180.0h-2zM446 110.0h2V180.0h-2zM448 110.0h2V176.0h-2zM450 116.0h2V176.0h-2zM452 114.0h2V176.0h-2zM454 124.0h2V176.0h-2zM456 112.0h2V180.0h-2zM458 110.0h2V178.0h-2zM460 118.0h2V176.0h-2zM462 128.0h2V176.0h-2zM464 140.0h2V178.0h-2zM466 126.0h2V172.0h-2zM468 114.0h2V176.0h-2zM470 110.0h2V176.0h-2zM472 108.0h2V170.0h-2zM474 108.0h2V174.0h-2zM476 108.0h2V174.0h-2zM478 122.0h2V180.0h-2zM480 138.0h2V176.0h-2zM482 140.0h2V176.0h-2zM484 142.0h2V180.0h-2zM486 134.0h2V184.0h-2zM488 134.0h2V176.0h-2zM490 124.0h2V174.0h-2zM492 134.0h2V178.0h-2zM494 128.0h2V186.0h-2zM496 104.0h2V174.0h-2zM498 112.0h2V174.0h-2zM500 118.0h2V180.0h-2zM502 116.0h2V180.0h-2zM504 136.0h2V180.0h-2zM506 136.0h2V180.0h-2zM508 122.0h2V178.0h-2zM510 118.0h2V178.0h-2zM512 130.0h2V170.0h-2zM514 126.0h2V182.0h-2zM516 124.0h2V178.0h-2zM518 136.0h2V184.0h-2zM520 142.0h2V182.0h-2zM522 162.0h2V194.0h-2zM524 144.0h2V208.0h-2zM526 134.0h2V190.0h-2zM528 108.0h2V190.0h-2zM530 154.0h2V184.0h-2zM532 130.0h2V198.0h-2zM534 122.0h2V194.0h-2zM536 118.0h2V190.0h-2zM538 118.0h2V180.0h-2zM540 128.0h2V174.0h-2zM542 130.0h2V190.0h-2zM544 126.0h2V206.0h-2zM546 116.0h2V202.0h-2zM548 118.0h2V184.0h-2zM550 116.0h2V184.0h-2zM552 116.0h2V190.0h-2zM554 116.0h2V184.0h-2zM556 118.0h2V180.0h-2zM558 114.0h2V184.0h-2zM560 112.0h2V186.0h-2zM562 132.0h2V178.0h-2zM564 128.0h2V196.0h-2zM566 120.0h2V200.0h-2zM568 156.0h2V190.0h-2zM570 136.0h2V194.0h-2zM572 112.0h2V200.0h-2zM574 108.0h2V202.0h-2zM576 116.0h2V190.0h-2zM578 116.0h2V184.0h-2zM580 112.0h2V190.0h-2zM582 134.0h2V190.0h-2zM584 162.0h2V204.0h-2zM586 124.0h2V200.0h-2zM588 120.0h2V204.0h-2zM590 150.0h2V180.0h-2zM592 148.0h2V190.0h-2zM594 162.0h2V194.0h-2zM596 142.0h2V200.0h-2zM598 152.0h2V198.0h-2zM600 142.0h2V204.0h-2zM602 130.0h2V208.0h-2zM604 154.0h2V200.0h-2zM606 142.0h2V194.0h-2zM608 140.0h2V194.0h-2zM610 160.0h2V206.0h-2zM612 190.0h2V212.0h-2zM614 190.0h2V210.0h-2zM616 178.0h2V200.0h-2zM618 142.0h2V210.0h-2zM620 170.0h2V194.0h-2zM622 168.0h2V200.0h-2zM624 172.0h2V208.0h-2zM626 140.0h2V204.0h-2zM628 124.0h2V206.0h-2zM630 156.0h2V210.0h-2zM632 124.0h2V222.0h-2zM634 124.0h2V212.0h-2zM636 140.0h2V218.0h-2zM638 178.0h2V214.0h-2zM640 154.0h2V216.0h-2zM642 152.0h2V220.0h-2zM644 142.0h2V206.0h-2zM646 146.0h2V204.0h-2zM648 184.0h2V200.0h-2zM650 174.0h2V210.0h-2zM652 168.0h2V222.0h-2zM654 182.0h2V232.0h-2zM656 170.0h2V234.0h-2zM658 162.0h2V230.0h-2zM660 156.0h2V226.0h-2zM662 178.0h2V234.0h-2zM664 210.0h2V234.0h-2zM666 210.0h2V234.0h-2zM668 170.0h2V234.0h-2zM670 158.0h2V236.0h-2zM672 146.0h2V232.0h-2zM674 146.0h2V232.0h-2zM676 154.0h2V224.0h-2zM678 182.0h2V246.0h-2zM680 186.0h2V250.0h-2zM682 198.0h2V246.0h-2zM684 184.0h2V250.0h-2zM686 170.0h2V242.0h-2zM688 156.0h2V248.0h-2zM690 194.0h2V248.0h-2zM692 186.0h2V264.0h-2zM694 178.0h2V260.0h-2zM696 172.0h2V258.0h-2zM698 174.0h2V236.0h-2zM700 160.0h2V232.0h-2zM702 228.0h2V252.0h-2zM704 174.0h2V256.0h-2zM706 202.0h2V256.0h-2zM708 164.0h2V250.0h-2zM710 220.0h2V264.0h-2zM712 180.0h2V274.0h-2zM714 172.0h2V266.0h-2zM716 158.0h2V262.0h-2zM718 154.0h2V248.0h-2zM720 236.0h2V252.0h-2zM722 238.0h2V262.0h-2zM724 236.0h2V262.0h-2zM728 218.0h2V262.0h-2zM730 208.0h2V270.0h-2zM732 198.0h2V264.0h-2zM734 194.0h2V262.0h-2zM736 184.0h2V262.0h-2zM738 168.0h2V250.0h-2zM740 192.0h2V258.0h-2zM742 186.0h2V262.0h-2zM744 166.0h2V250.0h-2zM746 168.0h2V246.0h-2zM748 166.0h2V246.0h-2zM750 164.0h2V246.0h-2zM752 210.0h2V230.0h-2zM754 232.0h2V270.0h-2zM756 220.0h2V280.0h-2zM758 224.0h2V270.0h-2zM760 226.0h2V278.0h-2zM762 230.0h2V274.0h-2zM764 204.0h2V284.0h-2zM766 178.0h2V270.0h-2zM768 182.0h2V244.0h-2zM770 188.0h2V250.0h-2zM772 198.0h2V242.0h-2zM774 204.0h2V254.0h-2zM776 222.0h2V258.0h-2zM778 192.0h2V260.0h-2zM780 228.0h2V262.0h-2zM782 250.0h2V264.0h-2zM784 228.0h2V268.0h-2zM786 238.0h2V274.0h-2zM788 214.0h2V274.0h-2zM790 212.0h2V266.0h-2z" fill="#777777" shape-rendering="crispEdges"/>
</g>
<path d="M62 600L62 600.0L64 600.0L64 600.0L66 600.0L66 599.9L68 599.9L68 599.8L70 599.8L70 599.7L72 599.7L72 599.6L74 599.6L74 599.5L76 599.5L76 599.4L78 599.4L78 599.3L80 599.3L80 599.2L82 599.2L82 599.1L84 599.1L84 599.0L86 599.0L86 598.9L88 598.9L88 598.8L90 598.8L90 598.7L92 598.7L92 598.5L94 598.5L94 598.4L96 598.4L96 598.3L98 598.3L98 598.2L100 598.2L100 598.1L102 598.1L102 598.0L104 598.0L104 597.9L106 597.9L106 597.8L108 597.8L108 597.7L110 597.7L110 597.6L112 597.6L112 597.5L114 597.5L114 597.4L116 597.4L116 597.3L118 597.3L118 597.2L120 597.2L120 597.1L122 597.1L122 597.0L124 597.0L124 596.9L126 596.9L126 596.8L128 596.8L128 596.7L130 596.7L130 596.6L132 596.6L132 596.4L134 596.4L134 596.3L136 596.3L136 596.2L138 596.2L138 596.1L140 596.1L140 596.0L142 596.0L142 595.9L144 595.9L144 595.8L146 595.8L146 595.6L148 595.6L148 595.5L150 595.5L150 595.4L152 595.4L152 595.3L154 595.3L154 595.2L156 595.2L156 595.1L158 595.1L158 594.9L160 594.9L160 594.8L162 594.8L162 594.7L164 594.7L164 594.6L166 594.6L166 594.5L168 594.5L168 594.4L170 594.4L170 594.3L172 594.3L172 594.1L174 594.1L174 594.0L176 594.0L176 593.9L178 593.9L178 593.8L180 593.8L180 593.7L182 593.7L182 593.6L184 593.6L184 593.4L186 593.4L186 593.2L188 593.2L188 593.0L190 593.0L190 592.8L192 592.8L192 592.6L194 592.6L194 592.5L196 592.5L196 592.3L198 592.3L198 592.1L200 592.1L200 591.9L202 591.9L202 591.7L204 591.7L204 591.5L206 591.5L206 591.4L208 591.4L208 591.2L210 591.2L210 591.0L212 591.0L212 590.8L214 590.8L214 590.6L216 590.6L216 590.4L218 590.4L218 590.3L220 590.3L220 590.1L222 590.1L222 589.9L224 589.9L224 589.7L226 589.7L226 589.5L228 589.5L228 589.3L230 589.3L230 589.1L232 589.1L232 589.0L234 589.0L234 588.8L236 588.8L236 588.6L238 588.6L238 588.4L240 588.4L240 588.2L242 588.2L242 588.0L244 588.0L244 587.9L246 587.9L246 587.6L248 587.6L248 587.3L250 587.3L250 587.0L252 587.0L252 586.7L254 586.7L254 586.4L256 586.4L256 586.1L258 586.1L258 585.9L260 585.9L260 585.6L262 585.6L262 585.3L264 585.3L264 585.0L266 585.0L266 584.7L268 584.7L268 584.4L270 584.4L270 584.1L272 584.1L272 583.9L274 583.9L274 583.6L276 583.6L276 583.3L278 583.3L278 583.0L280 583.0L280 582.7L282 582.7L282 582.4L284 582.4L284 582.1L286 582.1L286 581.9L288 581.9L288 581.6L290 581.6L290 581.3L292 581.3L292 581.0L294 581.0L294 580.7L296 580.7L296 580.4L298 580.4L298 580.1L300 580.1L300 579.9L302 579.9L302 579.6L304 579.6L304 579.3L306 579.3L306 578.8L308 578.8L308 578.2L310 578.2L310 577.7L312 577.7L312 577.2L314 577.2L314 576.6L316 576.6L316 576.1L318 576.1L318 575.6L320 575.6L320 575.0L322 575.0L322 574.5L324 574.5L324 574.0L326 574.0L326 573.5L328 573.5L328 572.9L330 572.9L330 572.4L332 572.4L332 571.9L334 571.9L334 571.3L336 571.3L336 570.8L338 570.8L338 570.3L340 570.3L340 569.7L342 569.7L342 569.2L344 569.2L344 568.7L346 568.7L346 568.2L348 568.2L348 567.6L350 567.6L350 567.1L352 567.1L352 566.6L354 566.6L354 566.0L356 566.0L356 565.5L358 565.5L358 565.0L360 565.0L360 564.4L362 564.4L362 563.9L364 563.9L364 563.4L366 563.4L366 562.9L368 562.9L368 562.2L370 562.2L370 561.6L372 561.6L372 561.0L374 561.0L374 560.3L376 560.3L376 559.7L378 559.7L378 559.0L380 559.0L380 558.4L382 558.4L382 557.8L384 557.8L384 557.1L386 557.1L386 556.5L388 556.5L388 555.9L390 555.9L390 555.2L392 555.2L392 554.6L394 554.6L394 554.0L396 554.0L396 553.3L398 553.3L398 552.7L400 552.7L400 552.1L402 552.1L402 551.4L404 551.4L404 550.8L406 550.8L406 550.2L408 550.2L408 549.5L410 549.5L410 548.9L412 548.9L412 548.3L414 548.3L414 547.6L416 547.6L416 547.0L418 547.0L418 546.3L420 546.3L420 545.7L422 545.7L422 545.2L424 545.2L424 544.7L426 544.7L426 544.2L428 544.2L428 543.7L430 543.7L430 543.1L432 543.1L432 542.6L434 542.6L434 542.1L436 542.1L436 541.6L438 541.6L438 541.1L440 541.1L440 540.5L442 540.5L442 539.8L444 539.8L444 539.2L446 539.2L446 538.6L448 538.6L448 538.0L450 538.0L450 537.4L452 537.4L452 536.8L454 536.8L454 536.2L456 536.2L456 535.5L458 535.5L458 534.9L460 534.9L460 534.3L462 534.3L462 533.7L464 533.7L464 533.1L466 533.1L466 532.5L468 532.5L468 531.9L470 531.9L470 531.2L472 531.2L472 530.6L474 530.6L474 530.0L476 530.0L476 529.4L478 529.4L478 528.8L480 528.8L480 528.2L482 528.2L482 527.6L484 527.6L484 526.9L486 526.9L486 526.3L488 526.3L488 525.7L490 525.7L490 525.1L492 525.1L492 524.4L494 524.4L494 523.8L496 523.8L496 523.1L498 523.1L498 522.5L500 522.5L500 521.8L502 521.8L502 521.2L504 521.2L504 520.6L506 520.6L506 519.9L508 519.9L508 519.3L510 519.3L510 518.6L512 518.6L512 518.0L514 518.0L514 517.3L516 517.3L516 516.7L518 516.7L518 516.0L520 516.0L520 515.4L522 515.4L522 514.7L524 514.7L524 514.1L526 514.1L526 513.5L528 513.5L528 512.8L530 512.8L530 512.2L532 512.2L532 511.5L534 511.5L534 510.9L536 510.9L536 510.2L538 510.2L538 509.6L540 509.6L540 508.9L542 508.9L542 508.3L544 508.3L544 507.6L546 507.6L546 507.0L548 507.0L548 506.4L550 506.4L550 505.7L552 505.7L552 504.6L554 504.6L554 503.5L556 503.5L556 502.4L558 502.4L558 501.9L560 501.9L560 501.5L562 501.5L562 501.0L564 501.0L564 500.6L566 500.6L566 500.1L568 500.1L568 499.7L570 499.7L570 499.2L572 499.2L572 498.8L574 498.8L574 498.3L576 498.3L576 497.9L578 497.9L578 497.4L580 497.4L580 497.0L582 497.0L582 496.5L584 496.5L584 496.1L586 496.1L586 495.6L588 495.6L588 495.2L590 495.2L590 494.7L592 494.7L592 494.3L594 494.3L594 493.9L596 493.9L596 493.6L598 493.6L598 493.3L600 493.3L600 492.9L602 492.9L602 492.6L604 492.6L604 492.3L606 492.3L606 491.9L608 491.9L608 491.6L610 491.6L610 491.2L612 491.2L612 491.0L614 491.0L614 490.7L616 490.7L616 490.4L618 490.4L618 490.2L620 490.2L620 489.9L622 489.9L622 489.6L624 489.6L624 489.4L626 489.4L626 489.1L628 489.1L628 488.8L630 488.8L630 488.5L632 488.5L632 488.3L634 488.3L634 488.0L636 488.0L636 487.7L638 487.7L638 487.5L640 487.5L640 487.2L642 487.2L642 486.9L644 486.9L644 486.7L646 486.7L646 486.4L648 486.4L648 486.1L650 486.1L650 485.8L652 485.8L652 485.6L654 485.6L654 485.3L656 485.3L656 485.0L658 485.0L658 484.8L660 484.8L660 484.5L662 484.5L662 484.2L664 484.2L664 483.9L666 483.9L666 483.7L668 483.7L668 483.4L670 483.4L670 483.1L672 483.1L672 482.9L674 482.9L674 482.7L676 482.7L676 482.6L678 482.6L678 482.4L680 482.4L680 482.3L682 482.3L682 482.1L684 482.1L684 482.0L686 482.0L686 481.9L688 481.9L688 481.7L690 481.7L690 481.6L692 481.6L692 481.4L694 481.4L694 481.3L696 481.3L696 481.1L698 481.1L698 481.0L700 481.0L700 480.9L702 480.9L702 480.7L704 480.7L704 480.6L706 480.6L706 480.4L708 480.4L708 480.3L710 480.3L710 480.1L712 480.1L712 480.0L714 480.0L714 479.9L716 479.9L716 479.7L718 479.7L718 479.6L720 479.6L720 479.4L722 479.4L722 479.3L724 479.3L724 479.1L726 479.1L726 479.0L728 479.0L728 478.9L730 478.9L730 478.7L732 478.7L732 478.6L734 478.6L734 478.4L736 478.4L736 478.3L738 478.3L738 478.1L740 478.1L740 478.0L742 478.0L742 477.9L744 477.9L744 477.7L746 477.7L746 477.6L748 477.6L748 477.4L750 477.4L750 477.3L752 477.3L752 477.1L754 477.1L754 477.0L756 477.0L756 476.9L758 476.9L758 476.7L760 476.7L760 476.6L762 476.6L762 476.4L764 476.4L764 476.3L766 476.3L766 476.1L768 476.1L768 476.0L770 476.0L770 475.9L772 475.9L772 475.7L774 475.7L774 475.6L776 475.6L776 475.4L778 475.4L778 475.3L780 475.3L780 475.1L782 475.1L782 475.0L784 475.0L784 474.9L786 474.9L786 474.7L788 474.7L788 474.6L790 474.6L790 474.4L792 474.4L792 600z" fill="#a89880" shape-rendering="crispEdges"/>
<path d="M62 600L62 599.6L64 599.6L64 599.6L66 599.6L66 597.3L68 597.3L68 597.3L70 597.3L70 597.3L72 597.3L72 597.3L74 597.3L74 597.3L76 597.3L76 597.3L78 597.3L78 597.3L80 597.3L80 597.3L82 597.3L82 597.3L84 597.3L84 597.3L86 597.3L86 597.3L88 597.3L88 597.3L90 597.3L90 597.3L92 597.3L92 597.3L94 597.3L94 597.3L96 597.3L96 597.3L98 597.3L98 597.3L100 597.3L100 597.3L102 597.3L102 590.4L104 590.4L104 590.4L106 590.4L106 590.4L108 590.4L108 590.4L110 590.4L110 590.4L112 590.4L112 590.4L114 590.4L114 590.4L116 590.4L116 590.4L118 590.4L118 590.4L120 590.4L120 590.4L122 590.4L122 587.4L124 587.4L124 587.4L126 587.4L126 587.4L128 587.4L128 587.4L130 587.4L130 587.4L132 587.4L132 587.4L134 587.4L134 587.4L136 587.4L136 587.4L138 587.4L138 587.4L140 587.4L140 587.4L142 587.4L142 587.4L144 587.4L144 587.4L146 587.4L146 587.4L148 587.4L148 587.4L150 587.4L150 587.4L152 587.4L152 587.4L154 587.4L154 586.1L156 586.1L156 586.1L158 586.1L158 586.1L160 586.1L160 586.1L162 586.1L162 586.1L164 586.1L164 583.6L166 583.6L166 579.9L168 579.9L168 579.1L170 579.1L170 579.1L172 579.1L172 579.1L174 579.1L174 579.1L176 579.1L176 577.4L178 577.4L178 575.9L180 575.9L180 575.9L182 575.9L182 575.9L184 575.9L184 575.9L186 575.9L186 575.9L188 575.9L188 575.9L190 575.9L190 575.9L192 575.9L192 575.9L194 575.9L194 575.9L196 575.9L196 575.9L198 575.9L198 575.9L200 575.9L200 575.9L202 575.9L202 575.9L204 575.9L204 575.9L206 575.9L206 575.9L208 575.9L208 575.9L210 575.9L210 575.9L212 575.9L212 575.9L214 575.9L214 575.9L216 575.9L216 575.9L218 575.9L218 575.9L220 575.9L220 575.9L222 575.9L222 575.9L224 575.9L224 575.9L226 575.9L226 575.9L228 575.9L228 575.9L230 575.9L230 575.9L232 575.9L232 575.9L234 575.9L234 575.9L236 575.9L236 575.9L238 575.9L238 575.9L240 575.9L240 575.9L242 575.9L242 575.9L244 575.9L244 575.9L246 575.9L246 575.9L248 575.9L248 575.9L250 575.9L250 575.9L252 575.9L252 575.9L254 575.9L254 575.9L256 575.9L256 575.9L258 575.9L258 575.9L260 575.9L260 575.9L262 575.9L262 575.9L264 575.9L264 575.9L266 575.9L266 575.9L268 575.9L268 575.9L270 575.9L270 575.9L272 575.9L272 573.3L274 573.3L274 573.3L276 573.3L276 573.3L278 573.3L278 573.3L280 573.3L280 572.3L282 572.3L282 572.3L284 572.3L284 572.3L286 572.3L286 572.3L288 572.3L288 572.3L290 572.3L290 572.3L292 572.3L292 571.1L294 571.1L294 566.1L296 566.1L296 566.1L298 566.1L298 566.1L300 566.1L300 566.1L302 566.1L302 566.1L304 566.1L304 566.1L306 566.1L306 566.1L308 566.1L308 564.3L310 564.3L310 564.3L312 564.3L312 564.3L314 564.3L314 564.3L316 564.3L316 564.3L318 564.3L318 563.1L320 563.1L320 563.1L322 563.1L322 563.1L324 563.1L324 563.1L326 563.1L326 561.1L328 561.1L328 561.1L330 561.1L330 561.1L332 561.1L332 561.1L334 561.1L334 561.1L336 561.1L336 561.1L338 561.1L338 556.9L340 556.9L340 556.9L342 556.9L342 554.9L344 554.9L344 554.9L346 554.9L346 552.4L348 552.4L348 552.4L350 552.4L350 552.4L352 552.4L352 552.4L354 552.4L354 552.4L356 552.4L356 552.4L358 552.4L358 552.4L360 552.4L360 552.4L362 552.4L362 552.4L364 552.4L364 552.4L366 552.4L366 552.4L368 552.4L368 551.9L370 551.9L370 551.9L372 551.9L372 551.9L374 551.9L374 551.1L376 551.1L376 551.1L378 551.1L378 551.1L380 551.1L380 551.1L382 551.1L382 551.1L384 551.1L384 549.9L386 549.9L386 547.9L388 547.9L388 547.9L390 547.9L390 547.9L392 547.9L392 547.9L394 547.9L394 547.9L396 547.9L396 547.9L398 547.9L398 546.1L400 546.1L400 546.1L402 546.1L402 546.1L404 546.1L404 546.1L406 546.1L406 546.1L408 546.1L408 546.1L410 546.1L410 546.1L412 546.1L412 546.1L414 546.1L414 546.1L416 546.1L416 546.1L418 546.1L418 546.1L420 546.1L420 546.1L422 546.1L422 546.1L424 546.1L424 546.1L426 546.1L426 546.1L428 546.1L428 546.1L430 546.1L430 546.1L432 546.1L432 546.1L434 546.1L434 546.1L436 546.1L436 546.1L438 546.1L438 529.1L440 529.1L440 529.1L442 529.1L442 529.1L444 529.1L444 529.1L446 529.1L446 529.1L448 529.1L448 529.1L450 529.1L450 529.1L452 529.1L452 529.1L454 529.1L454 529.1L456 529.1L456 529.1L458 529.1L458 529.1L460 529.1L460 529.1L462 529.1L462 527.4L464 527.4L464 527.4L466 527.4L466 527.4L468 527.4L468 527.4L470 527.4L470 527.4L472 527.4L472 527.4L474 527.4L474 527.4L476 527.4L476 527.4L478 527.4L478 526.1L480 526.1L480 526.1L482 526.1L482 526.1L484 526.1L484 516.1L486 516.1L486 516.1L488 516.1L488 516.1L490 516.1L490 514.1L492 514.1L492 507.9L494 507.9L494 507.9L496 507.9L496 507.9L498 507.9L498 507.9L500 507.9L500 507.9L502 507.9L502 507.9L504 507.9L504 506.9L506 506.9L506 506.9L508 506.9L508 506.9L510 506.9L510 506.9L512 506.9L512 506.9L514 506.9L514 506.9L516 506.9L516 506.9L518 506.9L518 504.4L520 504.4L520 504.4L522 504.4L522 504.4L524 504.4L524 504.4L526 504.4L526 504.4L528 504.4L528 504.4L530 504.4L530 504.4L532 504.4L532 504.4L534 504.4L534 504.4L536 504.4L536 504.4L538 504.4L538 504.4L540 504.4L540 504.4L542 504.4L542 504.4L544 504.4L544 504.4L546 504.4L546 504.4L548 504.4L548 503.1L550 503.1L550 503.1L552 503.1L552 503.1L554 503.1L554 503.1L556 503.1L556 502.4L558 502.4L558 502.4L560 502.4L560 502.4L562 502.4L562 502.4L564 502.4L564 502.4L566 502.4L566 502.4L568 502.4L568 502.4L570 502.4L570 502.4L572 502.4L572 502.4L574 502.4L574 502.4L576 502.4L576 502.4L578 502.4L578 502.4L580 502.4L580 502.4L582 502.4L582 502.4L584 502.4L584 502.4L586 502.4L586 502.4L588 502.4L588 502.4L590 502.4L590 498.6L592 498.6L592 494.4L594 494.4L594 494.4L596 494.4L596 494.4L598 494.4L598 494.4L600 494.4L600 494.4L602 494.4L602 494.4L604 494.4L604 494.4L606 494.4L606 494.4L608 494.4L608 492.4L610 492.4L610 492.4L612 492.4L612 486.9L614 486.9L614 486.9L616 486.9L616 486.9L618 486.9L618 486.9L620 486.9L620 485.0L622 485.0L622 481.9L624 481.9L624 481.9L626 481.9L626 481.9L628 481.9L628 481.9L630 481.9L630 481.9L632 481.9L632 481.9L634 481.9L634 481.9L636 481.9L636 481.9L638 481.9L638 481.9L640 481.9L640 481.9L642 481.9L642 481.9L644 481.9L644 481.9L646 481.9L646 476.4L648 476.4L648 466.4L650 466.4L650 462.1L652 462.1L652 462.1L654 462.1L654 462.1L656 462.1L656 462.1L658 462.1L658 462.1L660 462.1L660 462.1L662 462.1L662 462.1L664 462.1L664 462.1L666 462.1L666 457.6L668 457.6L668 457.6L670 457.6L670 457.6L672 457.6L672 457.6L674 457.6L674 457.6L676 457.6L676 457.6L678 457.6L678 457.6L680 457.6L680 457.6L682 457.6L682 457.6L684 457.6L684 457.6L686 457.6L686 457.6L688 457.6L688 457.6L690 457.6L690 457.6L692 457.6L692 457.6L694 457.6L694 457.6L696 457.6L696 457.6L698 457.6L698 457.6L700 457.6L700 456.9L702 456.9L702 456.9L704 456.9L704 456.9L706 456.9L706 456.9L708 456.9L708 456.9L710 456.9L710 456.9L712 456.9L712 456.9L714 456.9L714 456.9L716 456.9L716 456.9L718 456.9L718 456.9L720 456.9L720 451.7L722 451.7L722 451.2L724 451.2L724 451.2L726 451.2L726 451.2L728 451.2L728 451.2L730 451.2L730 451.2L732 451.2L732 451.2L734 451.2L734 451.2L736 451.2L736 451.2L738 451.2L738 451.2L740 451.2L740 451.2L742 451.2L742 451.2L744 451.2L744 451.2L746 451.2L746 451.2L748 451.2L748 451.2L750 451.2L750 451.2L752 451.2L752 450.0L754 450.0L754 448.4L756 448.4L756 448.4L758 448.4L758 448.4L760 448.4L760 448.4L762 448.4L762 448.4L764 448.4L764 448.4L766 448.4L766 448.4L768 448.4L768 448.4L770 448.4L770 448.4L772 448.4L772 448.4L774 448.4L774 448.4L776 448.4L776 448.4L778 448.4L778 448.4L780 448.4L780 448.4L782 448.4L782 448.4L784 448.4L784 448.4L786 448.4L786 448.4L788 448.4L788 448.4L790 448.4L790 448.4L792 448.4L792 600z" fill="#009900" shape-rendering="crispEdges"/>
<line class="g" x1="62" y1="110.5" x2="792" y2="110.5"/>
<line class="g" x1="62" y1="150.5" x2="792" y2="150.5"/>
<line class="g" x1="62" y1="190.5" x2="792" y2="190.5"/>
<line class="g" x1="62" y1="230.5" x2="792" y2="230.5"/>
<line class="g" x1="62" y1="270.5" x2="792" y2="270.5"/>
<line class="g" x1="62" y1="310.5" x2="792" y2="310.5"/>
<line class="g" x1="62" y1="564.5" x2="792" y2="564.5"/>
<line class="g" x1="62" y1="528.5" x2="792" y2="528.5"/>
<line class="g" x1="62" y1="492.5" x2="792" y2="492.5"/>
<line class="g" x1="62" y1="457.5" x2="792" y2="457.5"/>
<line class="g" x1="62" y1="421.5" x2="792" y2="421.5"/>
<line class="g" x1="62" y1="385.5" x2="792" y2="385.5"/>
<text class="ax" x="93.3" y="65" text-anchor="middle" textLength="24.0" lengthAdjust="spacingAndGlyphs">Jan</text>
<text class="ax" x="93.3" y="620" text-anchor="middle" textLength="24.0" lengthAdjust="spacingAndGlyphs">Jan</text>
<line class="g" x1="124.5" y1="71" x2="124.5" y2="600"/>
<text class="ax" x="156.4" y="65" text-anchor="middle" textLength="25.1" lengthAdjust="spacingAndGlyphs">Feb</text>
<text class="ax" x="156.4" y="620" text-anchor="middle" textLength="25.1" lengthAdjust="spacingAndGlyphs">Feb</text>
<line class="g" x1="180.5" y1="71" x2="180.5" y2="600"/>
<text class="ax" x="212.7" y="65" text-anchor="middle" textLength="25.8" lengthAdjust="spacingAndGlyphs">Mar</text>
<text class="ax" x="212.7" y="620" text-anchor="middle" textLength="25.8" lengthAdjust="spacingAndGlyphs">Mar</text>
<line class="g" x1="242.5" y1="71" x2="242.5" y2="600"/>
<text class="ax" x="274.6" y="65" text-anchor="middle" textLength="26.7" lengthAdjust="spacingAndGlyphs">Apr</text>
<text class="ax" x="274.6" y="620" text-anchor="middle" textLength="26.7" lengthAdjust="spacingAndGlyphs">Apr</text>
<line class="g" x1="302.5" y1="71" x2="302.5" y2="600"/>
<text class="ax" x="335.3" y="65" text-anchor="middle" textLength="27.3" lengthAdjust="spacingAndGlyphs">May</text>
<text class="ax" x="335.3" y="620" text-anchor="middle" textLength="27.3" lengthAdjust="spacingAndGlyphs">May</text>
<line class="g" x1="364.5" y1="71" x2="364.5" y2="600"/>
<text class="ax" x="395.7" y="65" text-anchor="middle" textLength="24.2" lengthAdjust="spacingAndGlyphs">Jun</text>
<text class="ax" x="395.7" y="620" text-anchor="middle" textLength="24.2" lengthAdjust="spacingAndGlyphs">Jun</text>
<line class="g" x1="424.5" y1="71" x2="424.5" y2="600"/>
<text class="ax" x="452.9" y="65" text-anchor="middle" textLength="18.7" lengthAdjust="spacingAndGlyphs">Jul</text>
<text class="ax" x="452.9" y="620" text-anchor="middle" textLength="18.7" lengthAdjust="spacingAndGlyphs">Jul</text>
<line class="g" x1="486.5" y1="71" x2="486.5" y2="600"/>
<text class="ax" x="519.8" y="65" text-anchor="middle" textLength="28.7" lengthAdjust="spacingAndGlyphs">Aug</text>
<text class="ax" x="519.8" y="620" text-anchor="middle" textLength="28.7" lengthAdjust="spacingAndGlyphs">Aug</text>
<line class="g" x1="548.5" y1="71" x2="548.5" y2="600"/>
<text class="ax" x="581.3" y="65" text-anchor="middle" textLength="26.5" lengthAdjust="spacingAndGlyphs">Sep</text>
<text class="ax" x="581.3" y="620" text-anchor="middle" textLength="26.5" lengthAdjust="spacingAndGlyphs">Sep</text>
<line class="g" x1="608.5" y1="71" x2="608.5" y2="600"/>
<text class="ax" x="640.2" y="65" text-anchor="middle" textLength="24.5" lengthAdjust="spacingAndGlyphs">Oct</text>
<text class="ax" x="640.2" y="620" text-anchor="middle" textLength="24.5" lengthAdjust="spacingAndGlyphs">Oct</text>
<line class="g" x1="670.5" y1="71" x2="670.5" y2="600"/>
<text class="ax" x="703.4" y="65" text-anchor="middle" textLength="26.9" lengthAdjust="spacingAndGlyphs">Nov</text>
<text class="ax" x="703.4" y="620" text-anchor="middle" textLength="26.9" lengthAdjust="spacingAndGlyphs">Nov</text>
<line class="g" x1="730.5" y1="71" x2="730.5" y2="600"/>
<text class="ax" x="763.7" y="65" text-anchor="middle" textLength="26.9" lengthAdjust="spacingAndGlyphs">Dec</text>
<text class="ax" x="763.7" y="620" text-anchor="middle" textLength="26.9" lengthAdjust="spacingAndGlyphs">Dec</text>
<line x1="62" y1="246.5" x2="792" y2="246.5" stroke="#00ffff" stroke-width="1" stroke-dasharray="1 1" shape-rendering="crispEdges"/>
<rect x="62.5" y="70.5" width="730" height="530" fill="none" stroke="#000" stroke-width="1" shape-rendering="crispEdges"/>
<line x1="62" y1="350.5" x2="793" y2="350.5" stroke="#000" stroke-width="1" shape-rendering="crispEdges"/>
<text class="ax" x="39.6" y="75.0" text-anchor="middle">120</text>
<text class="ax" x="811.5" y="75.0" text-anchor="middle">120</text>
<text class="ax" x="39.6" y="115.0" text-anchor="middle">100</text>
<text class="ax" x="811.5" y="115.0" text-anchor="middle">100</text>
<text class="ax" x="39.6" y="155.0" text-anchor="middle">80</text>
<text class="ax" x="811.5" y="155.0" text-anchor="middle">80</text>
<text class="ax" x="39.6" y="195.0" text-anchor="middle">60</text>
<text class="ax" x="811.5" y="195.0" text-anchor="middle">60</text>
<text class="ax" x="39.6" y="235.0" text-anchor="middle">40</text>
<text class="ax" x="811.5" y="235.0" text-anchor="middle">40</text>
<text class="ax" x="39.6" y="275.0" text-anchor="middle">20</text>
<text class="ax" x="811.5" y="275.0" text-anchor="middle">20</text>
<text class="ax" x="39.6" y="315.0" text-anchor="middle">0</text>
<text class="ax" x="811.5" y="315.0" text-anchor="middle">0</text>
<text class="ax" x="47.3" y="605.0" text-anchor="middle">0</text>
<text class="ax" x="807" y="605.0" text-anchor="middle">0</text>
<text class="ax" x="47.3" y="569.3" text-anchor="middle">5</text>
<text class="ax" x="807" y="569.3" text-anchor="middle">5</text>
<text class="ax" x="47.3" y="533.6" text-anchor="middle">10</text>
<text class="ax" x="807" y="533.6" text-anchor="middle">10</text>
<text class="ax" x="47.3" y="497.9" text-anchor="middle">15</text>
<text class="ax" x="807" y="497.9" text-anchor="middle">15</text>
<text class="ax" x="47.3" y="462.1" text-anchor="middle">20</text>
<text class="ax" x="807" y="462.1" text-anchor="middle">20</text>
<text class="ax" x="47.3" y="426.4" text-anchor="middle">25</text>
<text class="ax" x="807" y="426.4" text-anchor="middle">25</text>
<text class="ax" x="47.3" y="390.7" text-anchor="middle">30</text>
<text class="ax" x="807" y="390.7" text-anchor="middle">30</text>
<text class="ax" transform="translate(20,201.8) rotate(-90)" text-anchor="middle" textLength="146.5" lengthAdjust="spacingAndGlyphs">Temperature (deg F)</text>
<text class="ax" transform="translate(20,476.5) rotate(-90)" text-anchor="middle" textLength="148" lengthAdjust="spacingAndGlyphs">Precipitation (inches)</text>
<text class="t" transform="translate(425.5,34.5) scale(1.117,1)" text-anchor="middle">Dalhart TX - 2015</text>
<text class="f" x="795" y="639.8" text-anchor="end" textLength="239.5" lengthAdjust="spacingAndGlyphs">Image created: Fri, 1 Jan 2016 08:00 GMT</text>
<text x="734.5" y="448" font-size="14" font-weight="bold">21.23</text>
<g id="noaa">
<defs>
<clipPath id="nc"><circle cx="29.8" cy="30.3" r="25"/></clipPath>
<path id="nr1" d="M 4.62,37.52 A 26.2,26.2 0 1 1 54.98,37.52"/>
<path id="nr2" d="M 3.96,43.47 A 29,29 0 0 0 55.64,43.47"/>
</defs>
<circle cx="29.8" cy="30.3" r="25" fill="#1fa3d1"/>
<g clip-path="url(#nc)">
<path d="M0,0H60V17.5L53.6,17.6Q44,27 35,32.8Q31,35.6 28,34.4Q18,29 10,14.6L0,17z" fill="#0c0c73"/>
<path d="M10,14.6Q18,29 28,34.4Q31,35.6 35,32.8Q44,27 53.6,17.6L54.4,19.8Q45,29.5 38.5,34.4L40.2,35.2Q33,37.4 22.5,40.6L22.2,39.4Q27,37.8 30,36.8Q22,38 14,32Q8,27.5 3.5,23z" fill="#fff"/>
</g>
<text x="30" y="21.3" text-anchor="middle" font-size="7.2" font-weight="bold" style="fill:#fff;font-family:'DejaVu Sans Condensed','DejaVu Sans',sans-serif" textLength="20" lengthAdjust="spacingAndGlyphs">NOAA</text>
<text font-size="2.9" style="fill:#5a6a9a" font-weight="bold"><textPath href="#nr1" textLength="95" lengthAdjust="spacingAndGlyphs">NATIONAL OCEANIC AND ATMOSPHERIC ADMINISTRATION</textPath></text>
<text font-size="2.9" style="fill:#5a6a9a" font-weight="bold"><textPath href="#nr2" textLength="62" lengthAdjust="spacingAndGlyphs">U.S. DEPARTMENT OF COMMERCE</textPath></text>
</g>
<g id="nws">
<defs>
<clipPath id="wc"><circle cx="820" cy="29.8" r="18.3"/></clipPath>
<path id="wr" d="M 809.6,49.71 A 20.8,20.8 0 1 1 830.4,49.71"/>
</defs>
<circle cx="820" cy="29.8" r="18.3" fill="#2d55dc"/>
<g clip-path="url(#wc)">
<path d="M798,35Q806,41 812,38.5Q818,42 826,38.5Q832,41 842,35V50H798z" fill="#fff"/>
<path d="M800,44.5Q806,40.5 812,43Q818,46 824,43Q830,40.5 840,44V47Q830,44.5 824,46.5Q818,49 812,46.5Q806,44.5 800,48z" fill="#2d55dc"/>
</g>
<path d="M800.2,33Q798.6,29.5 802,27.5Q802,23 806.5,22Q809,17.5 813.5,19.5Q817,18.5 819,21.5Q824,19.5 827,22.5Q832,20.5 834.5,24Q839,24.5 839.2,28.5Q842,31 839.5,34Q837,37.8 832,36.4Q827,39.5 822,37.4Q817,40 812,37.4Q806,39.4 803.5,36.4Q800.6,35.8 800.2,33z" fill="#2a2aa6"/>
<circle cx="820" cy="29.8" r="18.3" fill="none" stroke="#2d4fd0" stroke-width="0.6"/>
<path d="M806.4,12.6L811.2,13.4L819.2,22.4L817.2,23.1L824.6,30.4L822.6,31.1L833,43.4L819.6,32.5L821.6,31.9L814.2,24.6L816.2,24L806.4,12.6z" fill="#fff" stroke="#2a2aa6" stroke-width="0.25"/>
<text transform="translate(820,31.7) scale(1.105,1) translate(-820,-31.7)" font-size="8.3" font-weight="bold" style="fill:#e02a35;stroke:#e02a35;stroke-width:0.35;font-family:'DejaVu Sans Condensed','DejaVu Sans',sans-serif"><textPath href="#wr" textLength="107.5" lengthAdjust="spacingAndGlyphs">NATIONAL WEATHER SERVICE</textPath></text>
<text x="812.2" y="55.4" font-size="4.5" text-anchor="middle" style="fill:#2a2a80">★</text>
<text x="819.6" y="56.4" font-size="4.5" text-anchor="middle" style="fill:#e02a35">★</text>
<text x="827" y="55.4" font-size="4.5" text-anchor="middle" style="fill:#2a2a80">★</text>
</g>

</svg></body></html>
